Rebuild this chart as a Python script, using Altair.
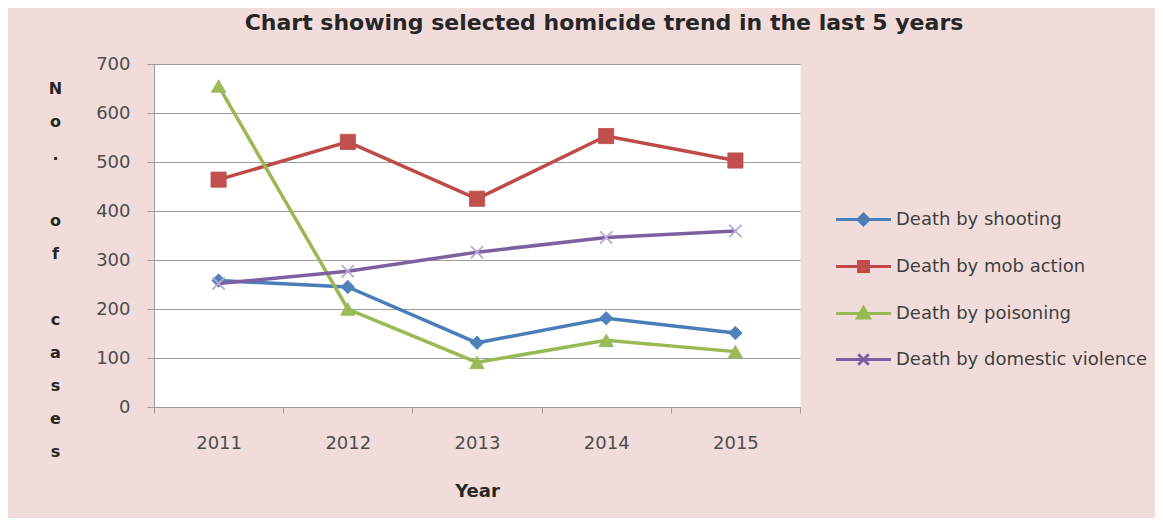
import altair as alt
import pandas as pd

years = ["2011", "2012", "2013", "2014", "2015"]
series_names = ["Death by shooting", "Death by mob action",
                "Death by poisoning", "Death by domestic violence"]
shooting = [258, 245, 131, 181, 151]
mob_action = [464, 541, 425, 553, 503]
poisoning = [655, 200, 91, 136, 113]
domestic = [252, 277, 316, 346, 359]
y_ticks = [0, 100, 200, 300, 400, 500, 600, 700]

line_colors = ["#4A7EBB", "#BE4B48", "#98B954", "#7D60A0"]
marker_fills = ["#4F81BD", "#C0504D", "#9BBB59", "#B9A8D4"]
marker_shapes = ["diamond", "square", "triangle-up",
                 "M-1,-1L1,1M-1,1L1,-1"]
marker_sizes = [180, 230, 210, 150]
legend_paths = [
    "M-1.83,0H1.83M0,-0.36L0.36,0L0,0.36L-0.36,0Z",
    "M-1.83,0H1.83M-0.33,-0.33H0.33V0.33H-0.33Z",
    "M-1.83,0H1.83M0,-0.4L0.4,0.3H-0.4Z",
    "M-1.83,0H1.83M-0.35,-0.35L0.35,0.35M-0.35,0.35L0.35,-0.35",
]

rows = []
for name, vals in zip(series_names, [shooting, mob_action, poisoning, domestic]):
    for yr, v in zip(years, vals):
        rows.append({"Year": yr, "series": name, "cases": v})
df = pd.DataFrame(rows)

FONT = "DejaVu Sans"
GRID = "#9c9c9c"
ZW = "\u200b"

x_enc = alt.X(
    "Year:O",
    sort=years,
    scale=alt.Scale(type="band", paddingInner=0, paddingOuter=0),
    axis=alt.Axis(
        title="Year", labelAngle=0, tickBand="extent", tickSize=6,
        tickColor=GRID, domainColor=GRID, labelPadding=21,
        labelFont=FONT, labelFontSize=18, labelColor="#4d4d4d",
        titleFont=FONT, titleFontSize=18, titleFontWeight="bold",
        titleColor="#262626", titlePadding=30, grid=False,
    ),
)
y_enc = alt.Y(
    "cases:Q",
    scale=alt.Scale(domain=[0, 700], nice=False),
    axis=alt.Axis(
        values=y_ticks, grid=True, gridColor=GRID, domainColor=GRID,
        tickColor=GRID, tickSize=7, labelPadding=17,
        labelFont=FONT, labelFontSize=18, labelColor="#4d4d4d",
        title=["N", "o", ".", ZW, "o", "f", ZW, "c", "a", "s", "e", "s"],
        titleAngle=0, titleAlign="center", titleBaseline="top",
        titleX=-99, titleY=16, titleLineHeight=33,
        titleFont=FONT, titleFontSize=16, titleFontWeight="bold",
        titleColor="#262626",
    ),
)

base = alt.Chart(df)
layers = []
for i, name in enumerate(series_names):
    sub = base.transform_filter(alt.datum.series == name)
    layers.append(
        sub.mark_line(strokeWidth=3.5, color=line_colors[i]).encode(x=x_enc, y=y_enc)
    )
    is_x = i == 3
    layers.append(
        sub.mark_point(
            shape=marker_shapes[i], size=marker_sizes[i],
            filled=not is_x,
            color=marker_fills[i],
            strokeWidth=1.8 if is_x else 0.8,
            stroke=marker_fills[i] if is_x else line_colors[i],
            opacity=1,
        ).encode(x=x_enc, y=y_enc)
    )

leg = alt.Legend(
    orient="none", legendX=693, legendY=139, direction="vertical",
    title=None, labelFont=FONT, labelFontSize=18, labelColor="#3f3f3f",
    labelOffset=16, rowPadding=19, symbolSize=900, symbolStrokeWidth=3,
    labelLimit=400, symbolOpacity=1,
)
legend_layer = base.transform_filter("false").mark_point(strokeWidth=3).encode(
    x=x_enc, y=y_enc,
    fill=alt.Fill("series:N", scale=alt.Scale(domain=series_names, range=marker_fills[:3] + [line_colors[3]]), legend=leg),
    stroke=alt.Stroke("series:N", scale=alt.Scale(domain=series_names, range=line_colors), legend=leg),
    shape=alt.Shape("series:N", scale=alt.Scale(domain=series_names, range=legend_paths), legend=leg),
)
layers.append(legend_layer)

chart = alt.layer(*layers).properties(
    width=646, height=343,
    autosize=alt.AutoSizeParams(type="none"),
    padding={"left": 146, "top": 56, "right": 355, "bottom": 111},
    background="#F2DCDB",
    title=alt.Title(
        "Chart showing selected homicide trend in the last 5 years",
        font=FONT, fontSize=22, fontWeight="bold", color="#262626",
        anchor="middle", dx=127, offset=20,
    ),
).configure_view(fill="white", stroke="transparent")

chart.save("out.html", embed_options={"renderer": "svg", "actions": False})
